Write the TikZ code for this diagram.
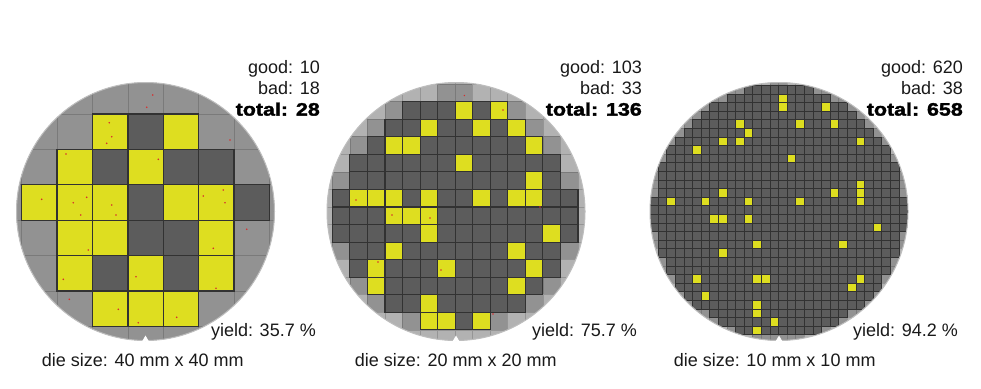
\documentclass[tikz,border=0pt]{standalone}
\usepackage{fontspec}
\setmainfont{Liberation Sans}
\newfontfamily\blackfont{Liberation Sans}[FakeStretch=1.19,FakeBold=2]
\definecolor{cGood}{RGB}{92,92,92}
\definecolor{cDieLine}{RGB}{50,50,50}
\definecolor{cBad}{RGB}{222,222,32}
\definecolor{cPM}{RGB}{146,146,146}
\definecolor{cPL}{RGB}{178,178,178}
\definecolor{cPLine}{RGB}{122,122,122}
\definecolor{cDef}{RGB}{215,45,45}
\definecolor{cTxt}{RGB}{25,25,25}
\definecolor{cRim}{RGB}{190,190,190}
\tikzset{
  txt/.style={inner sep=0pt, text=cTxt, font=\fontsize{18}{21}\selectfont},
  txtb/.style={inner sep=0pt, text=black, font=\blackfont\bfseries\fontsize{18}{21}\selectfont},
  goodcell/.style={fill=cGood, draw=cDieLine, line width=\Wlw},
  badcell/.style={fill=cBad, draw=cDieLine, line width=\Wlw},
  pmcell/.style={fill=cPM, draw=cPLine, line width=0.7pt},
  plcell/.style={fill=cPL, draw=cPLine!80!white, line width=0.7pt},
  rim/.style={draw=cRim, line width=1pt},
  notch/.style={fill=white, draw=none}
}
% parameters: rule cx, rule cy, loop x0, loop y0, cell size, max i, max k, die radius, medium radius
\newcommand\Wset[9]{\def\Wcx{#1}\def\Wcy{#2}\def\Wx{#3}\def\Wy{#4}\def\Ws{#5}\def\Wi{#6}\def\Wk{#7}\def\WRd{#8}\def\WRm{#9}}
\newcommand\Wcells[1]{%
  \foreach \ii in {0,...,\Wi}{\foreach \kk in {0,...,\Wk}{%
    \pgfmathsetmacro\xa{\Wx+\ii*\Ws}%
    \pgfmathsetmacro\ya{\Wy+\kk*\Ws}%
    \pgfmathsetmacro\ddx{max(abs(\xa-\Wcx),abs(\xa+\Ws-\Wcx))/10}%
    \pgfmathsetmacro\ddy{max(abs(\ya-\Wcy),abs(\ya+\Ws-\Wcy))/10}%
    \pgfmathsetmacro\ccx{(\xa+\Ws/2-\Wcx)/10}%
    \pgfmathsetmacro\ccy{(\ya+\Ws/2-\Wcy)/10}%
    \pgfmathtruncatemacro\cls{(\ddx*\ddx+\ddy*\ddy<=(\WRd/10)*(\WRd/10))?2:((\ccx*\ccx+\ccy*\ccy<=(\WRm/10)*(\WRm/10))?1:0)}%
    \ifnum#1=0
      \ifcase\cls \filldraw[plcell] (\xa,\ya) rectangle ++(\Ws,\Ws);
      \or \filldraw[pmcell] (\xa,\ya) rectangle ++(\Ws,\Ws);
      \or \fi
    \else
      \ifnum\cls=2 \filldraw[goodcell] (\xa,\ya) rectangle ++(\Ws,\Ws);\fi
    \fi
  }}}
\newcommand\Wbad[3]{\foreach \cc/\rr in {#3}{\filldraw[badcell] ({#1+\cc*\Ws},{#2+\rr*\Ws}) rectangle ++(\Ws,\Ws);}}
\begin{document}
\begin{tikzpicture}[x=1pt,y=-1pt]
\useasboundingbox (0,0) rectangle (981,388);
\fill[white] (0,0) rectangle (981,388);

% ---------------- wafer 1 (40 mm) ----------------
\def\Wlw{1.3pt}
\Wset{145.6}{214}{-13.7}{78.6}{35.4}{8}{7}{127.8}{400}
\begin{scope}
  \clip (145.5,211.5) circle (129);
  \fill[cPM] (145.5,211.5) circle (129);
  \Wcells{0}
  \Wcells{1}
  \Wbad{21.7}{78.6}{2/1,4/1,1/2,3/2,0/3,1/3,2/3,4/3,5/3,1/4,2/4,5/4,1/5,3/5,5/5,2/6,3/6,4/6}
  \foreach \p in {(109.3,122.7),(111.7,136.7),(106.7,143.3),(152.7,95),(146.7,107.3),(66,154),(158.3,159.3),(41.7,199.3),(73.3,202.7),(86.7,197.3),(80.7,215),(111.7,205),(116,215),(223.3,190),(203.3,196),(225,202.7),(88.3,250),(213.3,248.3),(63.3,279.3),(136,276.7),(216,288.3),(118.3,309.3),(138.3,322.7),(176.7,317.3),(69.3,299.3),(230,140),(246.7,229.3)}
    \fill[cDef] \p circle (0.9);
\end{scope}
\draw[rim] (145.5,211.5) circle (129);
\fill[notch] (142,341.5) -- (145.5,335.5) -- (149,341.5) -- cycle;

% ---------------- wafer 2 (20 mm) ----------------
\def\Wlw{1.1pt}
\Wset{455.15}{214}{314.75}{66.6}{17.55}{15}{15}{126.6}{122}
\begin{scope}
  \clip (456,211.5) circle (129);
  \fill[cPL] (456,211.5) circle (129);
  \Wcells{0}
  \Wcells{1}
  \Wbad{332.3}{101.7}{7/0,9/0,5/1,8/1,10/1,3/2,4/2,11/2,7/3,11/4,1/5,2/5,3/5,5/5,8/5,10/5,11/5,3/6,4/6,5/6,5/7,12/7,3/8,10/8,2/9,6/9,11/9,2/10,10/10,5/11,5/12,6/12,8/12}
  \foreach \p in {(464.3,95.5),(503,110),(356,200),(392,215),(430,218),(378,262),(493,314),(381,325),(540,207),(441,270)}
    \fill[cDef] \p circle (0.8);
\end{scope}
\draw[rim] (456,211.5) circle (129);
\fill[notch] (452.5,341.5) -- (456,335.5) -- (459.5,341.5) -- cycle;

% ---------------- wafer 3 (10 mm) ----------------
\def\Wlw{0.8pt}
\Wset{778.5}{211.5}{640.9}{76.8}{8.6}{31}{30}{131}{131}
\begin{scope}
  \clip (779,211.5) circle (129);
  \fill[cPL] (779,211.5) circle (129);
  \Wcells{0}
  \Wcells{1}
  \Wbad{778.5}{94}{0/0,0/1,5/1,2/3,6/3,9/5,1/7,9/10,9/11,6/11,9/12,2/12,-5/3,-4/4,-7/5,-5/5,-10/6,-7/11,-13/12,-9/12,-4/12,-8/14,-7/14,-4/14,-3/17,-7/18,-10/21,-3/21,-2/21,-9/23,-3/24,-3/25,-1/26,-3/27,11/15,7/17,9/21,8/22}
\end{scope}
\draw[rim] (779,211.5) circle (129);
\fill[notch] (775.5,341.5) -- (779,335.5) -- (782.5,341.5) -- cycle;

% ---------------- texts ----------------
\node[txt,  anchor=base east] (g1) at (320,73)    {good: 10};
\node[txt,  anchor=base east] (b1) at (320,94.3)  {bad: 18};
\node[txtb, anchor=base east] (t1) at (320,115.6) {total: 28};
\node[txt,  anchor=base east] (y1) at (316,336)   {yield: 35.7 \%};
\node[txt,  anchor=base west] (d1) at (41.7,366)  {die size: 40 mm x 40 mm};

\node[txt,  anchor=base east] (g2) at (642,73)    {good: 103};
\node[txt,  anchor=base east] (b2) at (642,94.3)  {bad: 33};
\node[txtb, anchor=base east] (t2) at (642,115.6) {total: 136};
\node[txt,  anchor=base east] (y2) at (637,336)   {yield: 75.7 \%};
\node[txt,  anchor=base west] (d2) at (354.7,366) {die size: 20 mm x 20 mm};

\node[txt,  anchor=base east] (g3) at (963,73)    {good: 620};
\node[txt,  anchor=base east] (b3) at (963,94.3)  {bad: 38};
\node[txtb, anchor=base east] (t3) at (963,115.6) {total: 658};
\node[txt,  anchor=base east] (y3) at (958,336)   {yield: 94.2 \%};
\node[txt,  anchor=base west] (d3) at (673.6,366) {die size: 10 mm x 10 mm};
\end{tikzpicture}
\end{document}
